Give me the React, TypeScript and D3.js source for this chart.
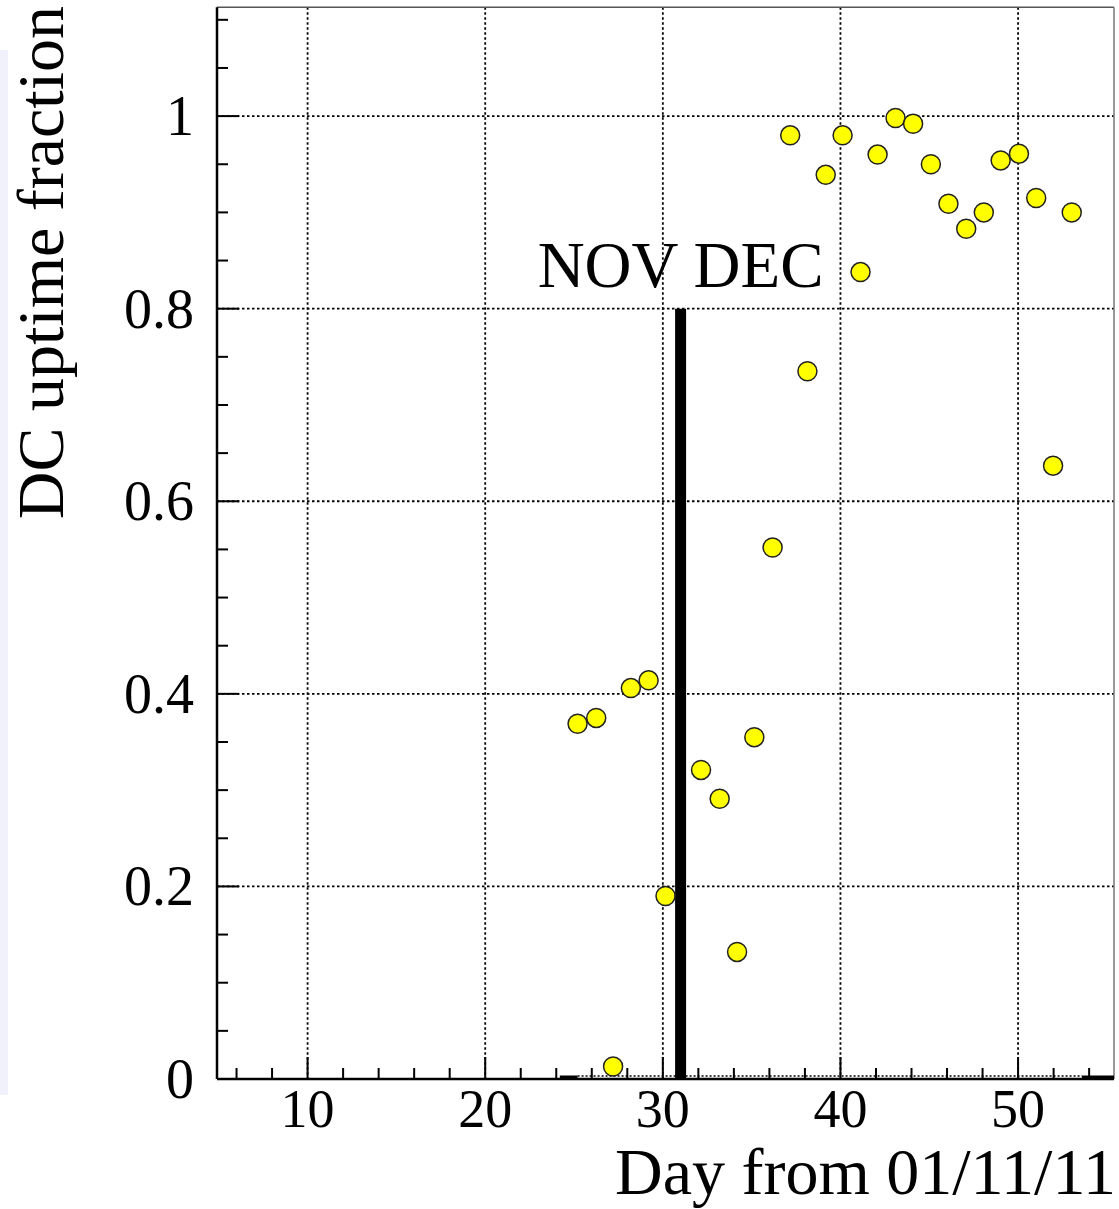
import React from "react";
import * as d3 from "d3";

// ---- data ----
const days: number[] = [
  25.2, 26.25, 27.2, 28.2, 29.2, 30.15, 32.15, 33.2, 34.18, 35.15,
  36.18, 37.17, 38.14, 39.17, 40.12, 41.13, 42.09, 43.1, 44.09, 45.09,
  46.08, 47.08, 48.07, 49.02, 50.05, 51.02, 51.97, 53.02,
];
const uptime: number[] = [
  0.369, 0.375, 0.013, 0.406, 0.414, 0.19, 0.321, 0.291, 0.132, 0.355,
  0.552, 0.98, 0.735, 0.939, 0.98, 0.838, 0.96, 0.998, 0.992, 0.95,
  0.909, 0.883, 0.9, 0.954, 0.961, 0.915, 0.637, 0.9,
];
const xTicksMajor: number[] = [10, 20, 30, 40, 50];
const yTicksMajor: number[] = [0, 0.2, 0.4, 0.6, 0.8, 1];
const yTickLabels: string[] = ["0", "0.2", "0.4", "0.6", "0.8", "1"];
const monthBoundary = 31; // NOV / DEC separator day
const monthBoundaryTop = 0.8;
const monthLabel = "NOV DEC";
const xTitle = "Day from 01/11/11";
const yTitle = "DC uptime fraction";
// histogram baseline segments drawn along y = 0
const baseThick: [number, number][] = [[24.2, 25.2], [53.6, 55.4]];
const baseDotted: [number, number] = [25.2, 53.6];

const W = 1119;
const H = 1209;
const FONT = "'Liberation Serif', 'Times New Roman', serif";

export default function App() {
  const x = d3.scaleLinear().domain([4.9, 55.4]).range([217, 1114]);
  const y = d3.scaleLinear().domain([0, 1.113]).range([1079, 7.3]);
  const [x0, x1] = x.range();
  const [y0, y1] = y.range();

  const xMinor = d3.range(6, 55.01, 2).filter((v) => v % 10 !== 0);
  const yMinor = d3.range(0, 1.1001, 0.05).filter(
    (v) => Math.abs(v / 0.2 - Math.round(v / 0.2)) > 1e-6
  );

  const pts = days.map((d, i) => ({ d, v: uptime[i] }));

  return (
    <svg
      width={W}
      height={H}
      style={{ position: "absolute", left: 0, top: 0, background: "#fff" }}
      fontFamily={FONT}
    >
      <rect x={0} y={0} width={W} height={H} fill="#fff" />
      <rect x={0} y={50} width={8} height={1045} fill="#f0f1fb" />

      {/* grid */}
      {xTicksMajor.map((t) => (
        <line
          key={"gx" + t}
          x1={x(t)}
          x2={x(t)}
          y1={y1}
          y2={y0}
          stroke="#000"
          strokeWidth={1.8}
          strokeDasharray="2.5,2.5"
        />
      ))}
      {yTicksMajor
        .filter((t) => t > 0)
        .map((t) => (
          <line
            key={"gy" + t}
            x1={x0}
            x2={x1}
            y1={y(t)}
            y2={y(t)}
            stroke="#000"
            strokeWidth={1.8}
            strokeDasharray="2.5,2.5"
          />
        ))}

      {/* frame top/right */}
      <line x1={x0} x2={x1} y1={y1} y2={y1} stroke="#555" strokeWidth={1.5} />
      <line x1={x1} x2={x1} y1={y1} y2={y0} stroke="#777" strokeWidth={1.5} />

      {/* baseline histogram segments */}
      <line
        x1={x(baseDotted[0])}
        x2={x(baseDotted[1])}
        y1={y0 - 3}
        y2={y0 - 3}
        stroke="#000"
        strokeWidth={1.5}
        strokeDasharray="2,2"
      />
      {baseThick.map(([a, b], i) => (
        <line
          key={"bt" + i}
          x1={x(a)}
          x2={x(b)}
          y1={y0 - 2}
          y2={y0 - 2}
          stroke="#000"
          strokeWidth={3}
        />
      ))}

      {/* axes */}
      <line x1={x0} x2={x1} y1={y0} y2={y0} stroke="#000" strokeWidth={2.5} />
      <line x1={x0} x2={x0} y1={y1} y2={y0} stroke="#000" strokeWidth={2.5} />

      {xTicksMajor.map((t) => (
        <g key={"xt" + t}>
          <line x1={x(t)} x2={x(t)} y1={y0} y2={y0 - 22} stroke="#000" strokeWidth={2} />
          <text
            x={x(t)}
            y={1127}
            textAnchor="middle"
            fontSize={54}
            fill="#000"
          >
            {t}
          </text>
        </g>
      ))}
      {xMinor.map((t) => (
        <line
          key={"xm" + t}
          x1={x(t)}
          x2={x(t)}
          y1={y0}
          y2={y0 - 11}
          stroke="#000"
          strokeWidth={2}
        />
      ))}

      {yTicksMajor.map((t, i) => (
        <g key={"yt" + t}>
          <line x1={x0} x2={x0 + 22} y1={y(t)} y2={y(t)} stroke="#000" strokeWidth={2} />
          <text
            x={194}
            y={y(t) + 19}
            textAnchor="end"
            fontSize={56}
            fill="#000"
          >
            {yTickLabels[i]}
          </text>
        </g>
      ))}
      {yMinor.map((t) => (
        <line
          key={"ym" + t}
          x1={x0}
          x2={x0 + 11}
          y1={y(t)}
          y2={y(t)}
          stroke="#000"
          strokeWidth={2}
        />
      ))}

      {/* month separator */}
      <line
        x1={x(monthBoundary)}
        x2={x(monthBoundary)}
        y1={y(0)}
        y2={y(monthBoundaryTop)}
        stroke="#000"
        strokeWidth={11}
      />
      <text
        x={x(monthBoundary)}
        y={287}
        textAnchor="middle"
        fontSize={65}
        fill="#000"
      >
        {monthLabel}
      </text>

      {/* points */}
      {pts.map((p, i) => (
        <circle
          key={"p" + i}
          cx={x(p.d)}
          cy={y(p.v)}
          r={9.5}
          fill="#ffff00"
          stroke="#222"
          strokeWidth={1.5}
        />
      ))}

      {/* titles */}
      <text x={1116} y={1194} textAnchor="end" fontSize={66} fill="#000">
        {xTitle}
      </text>
      <text
        transform="translate(63,6) rotate(-90)"
        textAnchor="end"
        fontSize={66}
        fill="#000"
      >
        {yTitle}
      </text>
    </svg>
  );
}
